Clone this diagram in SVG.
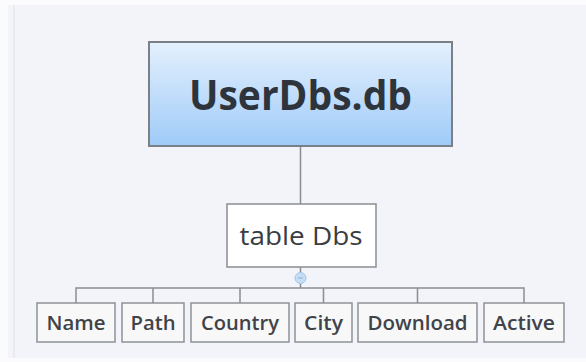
<svg xmlns="http://www.w3.org/2000/svg" width="586" height="362" viewBox="0 0 586 362">
  <defs>
    <linearGradient id="rootFill" x1="0" y1="0" x2="0" y2="1">
      <stop offset="0" stop-color="#e4f0fd"/>
      <stop offset="1" stop-color="#9fcbf8"/>
    </linearGradient>
    <style>
      .root { fill: url(#rootFill); stroke: #7b7f86; stroke-width: 2; }
      .box { fill: #ffffff; stroke: #8a8d92; stroke-width: 1.5; }
      .leaf { fill: #f8f8f9; stroke: #8e9196; stroke-width: 1.5; }
      .wire { fill: none; stroke: #8a8d92; stroke-width: 1.5; }
      .t { font-family: "Open Sans", "Noto Sans", "Liberation Sans", sans-serif; fill: #3a3d42; text-anchor: middle; }
      .t-root { font-size: 41px; font-weight: 700; fill: #2e343c; }
      .t-mid { font-size: 25px; font-weight: 400; }
      .t-leaf { font-size: 20px; font-weight: 600; fill: #404348; }
    </style>
  </defs>

  <!-- canvas -->
  <rect x="0" y="0" width="586" height="362" fill="#fbfbfd"/>
  <rect x="8" y="5" width="578" height="353" fill="#f2f4f9"/>
  <line x1="14" y1="5" x2="14" y2="358" stroke="#e6e8ee" stroke-width="1.5"/>

  <!-- connectors -->
  <g id="connectors">
    <line class="wire" x1="300.5" y1="145" x2="300.5" y2="204"/>
    <path class="wire" d="M76 303 V288 H524 V303"/>
    <line class="wire" x1="153" y1="288" x2="153" y2="303"/>
    <line class="wire" x1="240" y1="288" x2="240" y2="303"/>
    <line class="wire" x1="323.5" y1="288" x2="323.5" y2="303"/>
    <line class="wire" x1="417.5" y1="288" x2="417.5" y2="303"/>
    <line class="wire" x1="300.5" y1="267" x2="300.5" y2="288"/>
  </g>

  <g id="root">
    <rect class="root" x="149" y="42" width="303" height="104"/>
    <text class="t t-root" x="300.5" y="110" textLength="223" lengthAdjust="spacingAndGlyphs">UserDbs.db</text>
  </g>

  <g id="table-dbs">
    <rect class="box" x="227" y="204" width="149" height="63"/>
    <text class="t t-mid" x="301" y="245" textLength="123" lengthAdjust="spacingAndGlyphs">table Dbs</text>
    <!-- collapse toggle -->
    <circle cx="300.5" cy="278" r="5.5" fill="#c6def4" stroke="#a3c6e8" stroke-width="1"/>
    <line x1="298" y1="278" x2="303" y2="278" stroke="#86aed6" stroke-width="1"/>
  </g>

  <g id="name">
    <rect class="leaf" x="37" y="303" width="78" height="39"/>
    <text class="t t-leaf" x="76" y="329.5" textLength="59" lengthAdjust="spacingAndGlyphs">Name</text>
  </g>
  <g id="path">
    <rect class="leaf" x="122" y="303" width="62" height="39"/>
    <text class="t t-leaf" x="153" y="329.5" textLength="45" lengthAdjust="spacingAndGlyphs">Path</text>
  </g>
  <g id="country">
    <rect class="leaf" x="191" y="303" width="98" height="39"/>
    <text class="t t-leaf" x="240" y="329.5" textLength="78" lengthAdjust="spacingAndGlyphs">Country</text>
  </g>
  <g id="city">
    <rect class="leaf" x="295" y="303" width="57" height="39"/>
    <text class="t t-leaf" x="323.5" y="329.5" textLength="39" lengthAdjust="spacingAndGlyphs">City</text>
  </g>
  <g id="download">
    <rect class="leaf" x="358" y="303" width="119" height="39"/>
    <text class="t t-leaf" x="417.5" y="329.5" textLength="100" lengthAdjust="spacingAndGlyphs">Download</text>
  </g>
  <g id="active">
    <rect class="leaf" x="484" y="303" width="80" height="39"/>
    <text class="t t-leaf" x="524" y="329.5" textLength="62" lengthAdjust="spacingAndGlyphs">Active</text>
  </g>
</svg>
